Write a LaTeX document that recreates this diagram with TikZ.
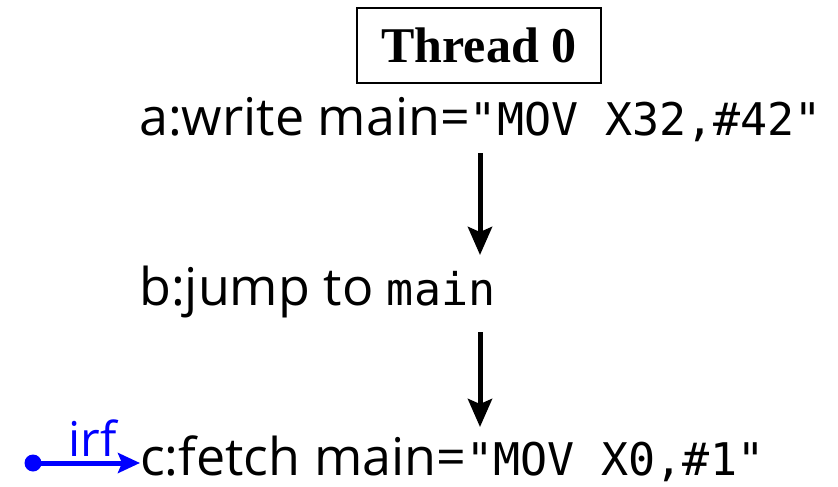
\documentclass[tikz,border=0pt]{standalone}
\usepackage{fontspec}
\setmainfont{Open Sans}
\setmonofont{DejaVu Sans Mono}
\newfontfamily\thrfont{Liberation Serif}
\usetikzlibrary{arrows.meta,calc}
\newcommand{\monotxt}[1]{{\ttfamily\fontsize{45}{58}\selectfont #1}}
\begin{document}
\begin{tikzpicture}[x=1pt,y=-1pt,
  txtline/.style={inner sep=0pt, anchor=base west, font=\fontsize{52}{60}\selectfont},
  arr/.style={line width=5pt, -{Stealth[length=28pt,width=24pt,inset=5pt]}},
  irfarr/.style={blue, line width=5pt, -{Stealth[length=22pt,width=20pt,inset=4pt]}},
  threadbox/.style={draw, line width=2.5pt, minimum width=244pt, minimum height=75pt, inner sep=0pt,
    font=\thrfont\bfseries\fontsize{50}{60}\selectfont}]
\useasboundingbox (0,0) rectangle (838,487);
\node[threadbox] (t0) at (479,45.5) {Thread 0};
\coordinate (col) at (480,0);
\node[txtline] (a) at (139,135) {a:write main=\monotxt{"MOV X32,\#42"}};
\node[txtline] (b) at (139,305) {b:jump to \monotxt{main}};
\node[txtline] (c) at (140,475) {c:fetch main=\monotxt{"MOV X0,\#1"}};
\draw[arr] ($(a.base -| col)+(0,18)$) -- ($(b.base -| col)+(0,-50)$);
\draw[arr] ($(b.base -| col)+(0,27)$) -- ($(c.base -| col)+(0,-48)$);
\coordinate (src) at (33,463);
\fill[blue] (src) circle (8.5pt);
\draw[irfarr] (src) -- node[above=4pt, inner sep=0pt, font=\fontsize{48}{52}\selectfont, text=blue, xshift=6pt] (irf) {irf} (c.west |- src);
\end{tikzpicture}
\end{document}
